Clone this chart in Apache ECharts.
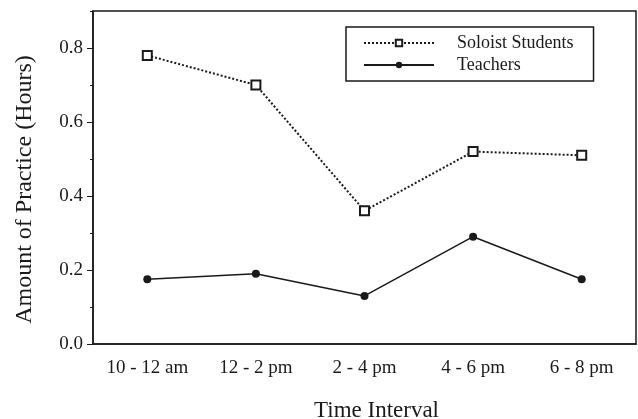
<!DOCTYPE html>
<html>
<head>
<meta charset="utf-8">
<script src="https://cdn.jsdelivr.net/npm/echarts@6/dist/echarts.min.js"></script>
<style>
  html, body { margin: 0; padding: 0; background: #fff; }
  #chart { width: 638px; height: 419px; }
</style>
</head>
<body>
<div id="chart"></div>
<script>
const categories = ['10 - 12 am', '12 - 2 pm', '2 - 4 pm', '4 - 6 pm', '6 - 8 pm']
const soloistStudents = [0.78, 0.70, 0.36, 0.52, 0.51]
const teachers = [0.175, 0.19, 0.13, 0.29, 0.175]
const yTickValues = [0, 0.2, 0.4, 0.6, 0.8]

const font = '"Liberation Serif", "DejaVu Serif", serif'
const ink = '#1a1a1a'

const myChart = echarts.init(document.getElementById('chart'))
const option = {
  backgroundColor: '#fff',
  animation: false,
  textStyle: { fontFamily: font, color: ink },
  grid: {
    left: 93, right: 2, top: 11, bottom: 75,
    outerBoundsMode: 'none',
    containLabel: false,
    show: true, borderColor: ink, borderWidth: 1.5, backgroundColor: 'transparent'
  },
  legend: {
    left: 346, top: 27,
    orient: 'vertical',
    padding: [7, 20, 7, 17],
    itemGap: 4,
    itemWidth: 70, itemHeight: 8,
    borderColor: ink, borderWidth: 1.5,
    textStyle: { fontFamily: font, fontSize: 18, color: ink, padding: [0, 0, 0, 18] },
    data: ['Soloist Students', 'Teachers']
  },
  xAxis: {
    type: 'category',
    data: categories,
    name: 'Time Interval',
    nameLocation: 'middle',
    nameGap: 55,
    nameTextStyle: { fontFamily: font, fontSize: 23, color: ink, padding: [0, 0, 0, 24] },
    axisLine: { lineStyle: { color: ink, width: 1.5 } },
    axisTick: { alignWithLabel: true, length: 4, lineStyle: { color: ink } },
    axisLabel: { fontFamily: font, fontSize: 19, color: ink, margin: 15 },
    splitLine: { show: false }
  },
  yAxis: [
    {
      type: 'value',
      min: 0, max: 0.9, interval: 0.1,
      name: 'Amount of Practice (Hours)',
      nameLocation: 'middle',
      nameGap: 56,
      nameTextStyle: { fontFamily: font, fontSize: 24, color: ink, padding: [0, 24, 0, 0] },
      axisLine: { show: true, lineStyle: { color: ink, width: 1.5 } },
      axisTick: { show: true, length: 3, lineStyle: { color: ink } },
      axisLabel: {
        fontFamily: font, fontSize: 19, color: ink, margin: 10,
        customValues: yTickValues,
        formatter: v => v.toFixed(1)
      },
      splitLine: { show: false }
    },
    {
      type: 'value',
      position: 'left',
      min: 0, max: 0.9, interval: 0.1,
      axisLine: { show: false },
      axisTick: { show: true, length: 6, customValues: yTickValues, lineStyle: { color: ink } },
      axisLabel: { show: false },
      splitLine: { show: false }
    }
  ],
  series: [
    {
      name: 'Soloist Students',
      type: 'line',
      data: soloistStudents,
      symbol: 'emptyRect',
      symbolSize: 9,
      color: ink,
      lineStyle: { type: 'dotted', width: 2, color: ink },
      itemStyle: { color: ink, borderWidth: 1.5 }
    },
    {
      name: 'Teachers',
      type: 'line',
      data: teachers,
      symbol: 'circle',
      symbolSize: 8,
      color: ink,
      lineStyle: { type: 'solid', width: 1.5, color: ink },
      itemStyle: { color: ink }
    }
  ]
}
myChart.setOption(option)
</script>
</body>
</html>
